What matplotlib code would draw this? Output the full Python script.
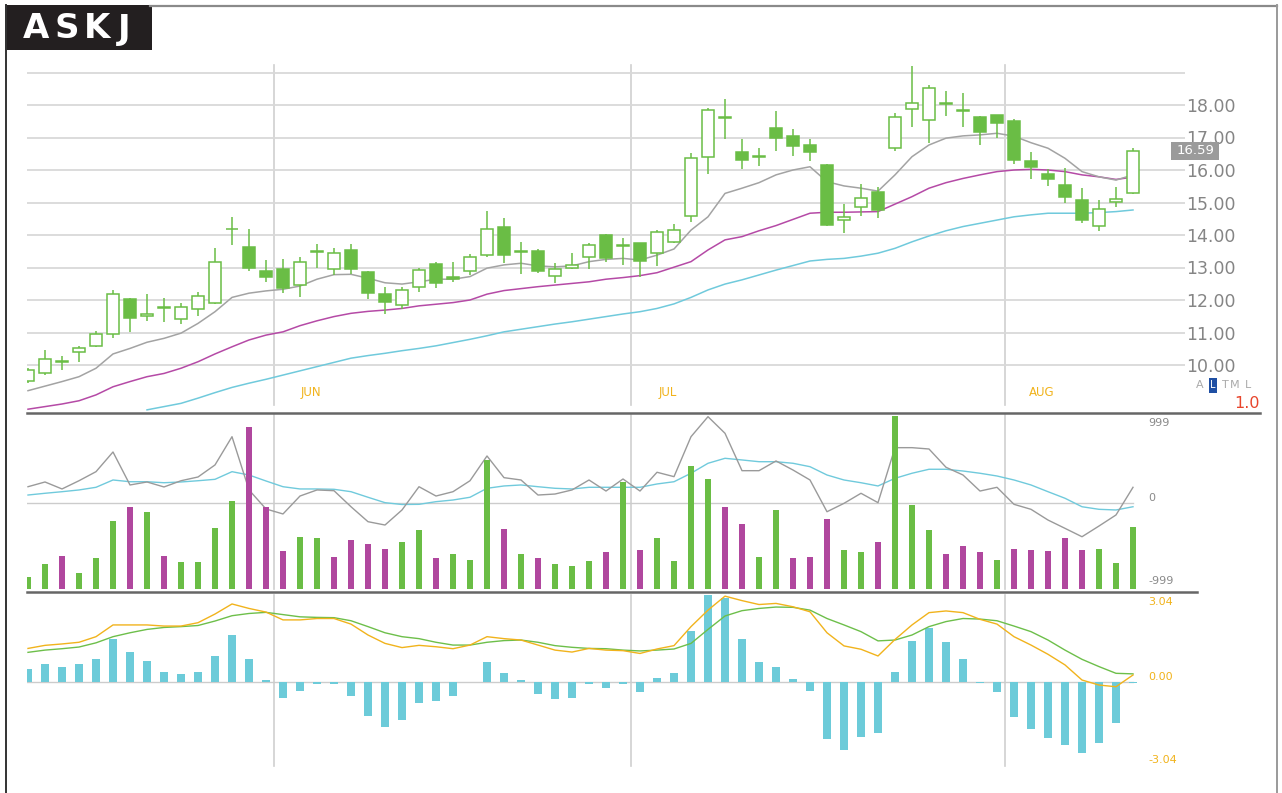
import matplotlib

matplotlib.use("Agg")
import matplotlib.pyplot as plt  # noqa: E402
from matplotlib.lines import Line2D  # noqa: E402
from matplotlib.patches import Rectangle  # noqa: E402
import numpy as np  # noqa: E402

W, H = 1282, 793

# ---- daily candles (May .. Aug) ----
opens = [9.50, 9.76, 10.10, 10.39, 10.59, 10.95, 12.03, 11.50, 11.75, 11.42,
         11.71, 11.92, 14.20, 13.64, 12.89, 12.94, 12.46, 13.50, 12.94, 13.54,
         12.87, 12.18, 11.85, 12.39, 13.11, 12.70, 12.90, 13.38, 14.26, 13.50,
         13.52, 12.75, 12.97, 13.33, 14.00, 13.68, 13.74, 13.44, 13.79, 14.59,
         16.41, 17.63, 16.54, 16.43, 17.28, 17.05, 16.76, 16.15, 14.46, 14.85,
         15.33, 16.67, 17.87, 17.54, 18.06, 17.83, 17.62, 17.69, 17.51, 16.28,
         15.87, 15.53, 15.08, 14.29, 15.02, 15.28]
highs = [9.90, 10.46, 10.28, 10.60, 11.06, 12.31, 12.05, 12.18, 12.07, 11.92,
         12.26, 13.59, 14.56, 14.18, 13.23, 13.26, 13.33, 13.71, 13.60, 13.71,
         12.90, 12.39, 12.39, 12.97, 13.18, 13.18, 13.42, 14.74, 14.51, 13.78,
         13.56, 13.15, 13.44, 13.76, 14.03, 13.92, 13.75, 14.15, 14.34, 16.53,
         17.92, 18.18, 16.94, 16.67, 17.82, 17.25, 16.94, 16.17, 14.95, 15.56,
         15.49, 17.74, 19.20, 18.62, 18.44, 18.38, 17.65, 17.70, 17.56, 16.54,
         16.02, 16.07, 15.46, 15.08, 15.49, 16.69]
lows = [9.45, 9.69, 9.85, 10.10, 10.56, 10.82, 11.02, 11.36, 11.33, 11.26,
        11.51, 11.88, 13.69, 12.90, 12.56, 12.22, 12.10, 13.00, 12.77, 12.79,
        12.04, 11.56, 11.73, 12.26, 12.38, 12.56, 12.77, 13.31, 13.13, 12.79,
        12.82, 12.53, 12.94, 12.94, 13.16, 13.08, 12.72, 13.05, 13.75, 14.41,
        15.87, 16.95, 16.02, 16.13, 16.59, 16.44, 16.29, 14.28, 14.05, 14.58,
        14.51, 16.59, 17.33, 16.84, 17.66, 17.33, 16.77, 16.97, 16.18, 15.71,
        15.51, 14.97, 14.36, 14.13, 14.87, 15.25]
closes = [9.85, 10.18, 10.08, 10.53, 10.95, 12.18, 11.46, 11.58, 11.76, 11.79,
          12.12, 13.17, 14.17, 12.98, 12.72, 12.38, 13.17, 13.48, 13.44, 12.94,
          12.21, 11.94, 12.31, 12.92, 12.53, 12.64, 13.33, 14.17, 13.38, 13.48,
          12.90, 12.94, 13.07, 13.69, 13.30, 13.65, 13.20, 14.10, 14.15, 16.38,
          17.85, 17.60, 16.31, 16.41, 17.00, 16.74, 16.55, 14.31, 14.56, 15.15,
          14.77, 17.64, 18.07, 18.51, 18.04, 17.81, 17.18, 17.44, 16.31, 16.10,
          15.71, 15.18, 14.46, 14.81, 15.12, 16.59]

# moving averages over the candles (grey fast, magenta mid, cyan slow)
ma_fast = [9.21, 9.35, 9.49, 9.64, 9.90, 10.34, 10.51, 10.70, 10.82, 10.98,
           11.28, 11.64, 12.08, 12.21, 12.28, 12.33, 12.43, 12.64, 12.78, 12.79,
           12.67, 12.53, 12.49, 12.56, 12.64, 12.64, 12.72, 12.98, 13.08, 13.13,
           13.05, 13.02, 13.05, 13.18, 13.25, 13.28, 13.23, 13.38, 13.57, 14.15,
           14.56, 15.28, 15.44, 15.61, 15.85, 16.00, 16.10, 15.64, 15.51, 15.44,
           15.35, 15.85, 16.41, 16.77, 16.98, 17.05, 17.08, 17.13, 17.04, 16.84,
           16.67, 16.36, 15.95, 15.79, 15.69, 15.85]
ma_mid = [8.64, 8.72, 8.80, 8.90, 9.08, 9.33, 9.49, 9.64, 9.74, 9.90,
          10.10, 10.34, 10.56, 10.77, 10.92, 11.02, 11.21, 11.36, 11.49, 11.59,
          11.65, 11.69, 11.74, 11.82, 11.87, 11.92, 12.00, 12.18, 12.29, 12.35,
          12.41, 12.46, 12.51, 12.56, 12.64, 12.69, 12.75, 12.84, 13.01, 13.18,
          13.54, 13.85, 13.95, 14.13, 14.29, 14.48, 14.67, 14.70, 14.70, 14.71,
          14.72, 14.95, 15.18, 15.44, 15.61, 15.74, 15.85, 15.95, 16.00, 16.02,
          16.00, 15.95, 15.85, 15.79, 15.71, 15.78]
ma_slow = [np.nan] * 7 + [
    8.62, 8.72, 8.82, 8.98, 9.15, 9.31, 9.44, 9.56, 9.69, 9.82,
    9.95, 10.08, 10.21, 10.29, 10.36, 10.44, 10.51, 10.59, 10.69, 10.79,
    10.90, 11.02, 11.10, 11.18, 11.26, 11.33, 11.41, 11.49, 11.57, 11.64,
    11.74, 11.88, 12.08, 12.31, 12.49, 12.62, 12.77, 12.92, 13.06, 13.20,
    13.25, 13.28, 13.35, 13.44, 13.59, 13.79, 13.97, 14.13, 14.26, 14.36,
    14.46, 14.56, 14.62, 14.67, 14.67, 14.67, 14.69, 14.72, 14.77]

# volume (thousands) and up/down colouring
volume = [58, 124, 167, 80, 155, 340, 410, 385, 165, 135,
          135, 305, 440, 810, 410, 190, 260, 255, 160, 245,
          225, 200, 235, 295, 155, 175, 145, 645, 300, 175,
          155, 125, 115, 140, 185, 535, 195, 255, 140, 615,
          550, 410, 325, 160, 395, 155, 160, 350, 195, 185,
          235, 865, 420, 295, 175, 215, 185, 145, 200, 195,
          190, 255, 195, 200, 130, 310]
vol_dir = list("ggmgggmgmggggmmmggmmmmggmgggmgmgggmgmggggmmggmmmggmgggmmmgmmmmmggg")

# volume oscillator (-999 .. 999) and its average
vol_osc = [196, 253, 169, 268, 377, 614, 217, 253, 193, 268,
           313, 458, 798, 157, -72, -132, 84, 157, 148, -45,
           -225, -265, -84, 196, 84, 136, 268, 566, 305, 277,
           96, 108, 157, 277, 144, 289, 144, 370, 317, 798,
           1039, 839, 389, 389, 506, 397, 277, -105, -4, 117,
           4, 666, 666, 650, 430, 337, 144, 189, -16, -76,
           -205, -305, -406, -277, -144, 189]
vol_osc_avg = [96, 117, 136, 157, 189, 277, 256, 256, 244, 253,
               268, 285, 377, 337, 265, 196, 169, 169, 165, 136,
               69, 4, -18, -16, 16, 36, 69, 177, 205, 217,
               196, 177, 169, 189, 189, 189, 189, 229, 256, 358,
               478, 538, 518, 497, 497, 478, 437, 337, 277, 244,
               205, 297, 358, 406, 406, 385, 358, 325, 277, 217,
               136, 57, -45, -76, -84, -45]

# MACD, signal, histogram
macd = [1.19, 1.30, 1.35, 1.41, 1.61, 2.03, 2.03, 2.03, 1.99, 1.99,
        2.11, 2.42, 2.78, 2.62, 2.49, 2.21, 2.21, 2.26, 2.26, 2.06,
        1.67, 1.37, 1.22, 1.30, 1.25, 1.18, 1.31, 1.61, 1.54, 1.49,
        1.31, 1.13, 1.06, 1.19, 1.13, 1.11, 1.01, 1.17, 1.29, 1.97,
        2.56, 3.06, 2.90, 2.76, 2.80, 2.68, 2.50, 1.75, 1.28, 1.16,
        0.92, 1.51, 2.03, 2.47, 2.53, 2.47, 2.23, 2.06, 1.61, 1.31,
        0.98, 0.60, 0.06, -0.12, -0.18, 0.24]
signal = [1.05, 1.13, 1.18, 1.24, 1.39, 1.61, 1.75, 1.87, 1.94, 1.97,
          2.01, 2.17, 2.36, 2.44, 2.48, 2.40, 2.32, 2.30, 2.29, 2.18,
          1.97, 1.75, 1.61, 1.54, 1.41, 1.31, 1.31, 1.41, 1.47, 1.49,
          1.41, 1.29, 1.23, 1.19, 1.18, 1.13, 1.10, 1.13, 1.17, 1.37,
          1.87, 2.35, 2.54, 2.62, 2.67, 2.66, 2.56, 2.26, 2.03, 1.79,
          1.46, 1.49, 1.67, 1.97, 2.15, 2.26, 2.24, 2.18, 1.99, 1.79,
          1.49, 1.13, 0.80, 0.54, 0.30, 0.28]
hist = [0.45, 0.62, 0.54, 0.62, 0.80, 1.54, 1.05, 0.75, 0.36, 0.29,
        0.36, 0.93, 1.66, 0.80, 0.06, -0.57, -0.32, -0.08, -0.08, -0.51,
        -1.22, -1.61, -1.37, -0.75, -0.69, -0.51, -0.02, 0.72, 0.32, 0.06,
        -0.45, -0.63, -0.57, -0.10, -0.21, -0.10, -0.36, 0.15, 0.32, 1.80,
        3.10, 3.00, 1.54, 0.72, 0.54, 0.11, -0.32, -2.05, -2.44, -1.97,
        -1.82, 0.35, 1.45, 1.93, 1.41, 0.80, -0.06, -0.36, -1.25, -1.69,
        -2.00, -2.25, -2.56, -2.18, -1.49, -0.06]

months = ["JUN", "JUL", "AUG"]
month_first_bar = [15, 36, 58]
price_ticks = [10, 11, 12, 13, 14, 15, 16, 17, 18, 19]
last_price = closes[-1]

# colours
GREEN = "#6abd45"
MAGENTA = "#b0479e"
GREY_MA = "#a3a3a3"
PINK_MA = "#b54aa6"
CYAN_MA = "#70cadc"
ORANGE = "#f1b31c"
HIST = "#6ccbd9"
GRID = "#d9d9d9"


def fx(x):
    return x / W


def fy(y):
    return 1 - y / H


def panel(top, bottom, left=27, right=1185):
    ax = fig.add_axes([fx(left), fy(bottom), (right - left) / W, (bottom - top) / H])
    for s in ax.spines.values():
        s.set_visible(False)
    ax.set_facecolor("none")
    return ax


fig = plt.figure(figsize=(W / 100, H / 100), dpi=100)
n = len(closes)
xs = np.arange(n)
XLIM = ((27 - 28) / 17, (1185 - 28) / 17)
month_lines = [b - 0.5 for b in month_first_bar]

# ---------------- price panel ----------------
ax = panel(60, 412)
ax.set_xlim(*XLIM)
ax.set_ylim(10 - 47 / 32.5, 10 + 305 / 32.5)
ax.set_xticks([])
ax.set_yticks(price_ticks)
ax.set_yticklabels([f"{v:.2f}" for v in price_ticks[:-1]] + [""])
ax.yaxis.tick_right()
ax.tick_params(axis="y", length=0, pad=1, labelsize=12.5, labelcolor="#858585")
ax.grid(axis="y", color=GRID, lw=1.3)
ax.set_axisbelow(True)
for mx in month_lines:
    ax.axvline(mx, ymin=0.02, ymax=0.986, color="#cfcfcf", lw=1.2, zorder=0)
for mx, name in zip(month_lines, months):
    ax.text(mx + 2.15, 9.14, name, color=ORANGE, fontsize=8.5, ha="center", va="center")

ax.plot(xs, ma_slow, color=CYAN_MA, lw=1.1, zorder=2)
ax.plot(xs, ma_mid, color=PINK_MA, lw=1.1, zorder=2)
ax.plot(xs, ma_fast, color=GREY_MA, lw=1.1, zorder=2)

o, c = np.array(opens), np.array(closes)
up = c >= o
bottoms = np.minimum(o, c)
heights = np.maximum(np.abs(c - o), 0.03)
ax.vlines(xs, lows, highs, color=GREEN, lw=1.1, zorder=3)
ax.bar(xs, heights, bottom=bottoms, width=0.74,
       facecolor=["white" if u else GREEN for u in up], edgecolor=GREEN, lw=1.1, zorder=4)

# ---------------- volume panel ----------------
ax_osc = panel(413, 591)
ax_osc.set_xlim(*XLIM)
ax_osc.set_ylim(-(591 - 503) / 83 * 999, (503 - 413) / 83 * 999)
ax_osc.set_xticks([])
ax_osc.set_yticks([])
for mx in month_lines:
    ax_osc.axvline(mx, ymin=0.01, ymax=0.99, color="#cfcfcf", lw=1.2, zorder=0)
ax_osc.axhline(0, xmax=(1133 - 27) / (1185 - 27), color="#cccccc", lw=1.0, zorder=1)
ax_osc.plot(xs, vol_osc_avg, color=CYAN_MA, lw=1.0, zorder=2)
ax_osc.plot(xs, vol_osc, color="#9a9a9a", lw=1.0, zorder=2)

ax_vol = ax_osc.twinx()
for s in ax_vol.spines.values():
    s.set_visible(False)
ax_vol.set_xlim(*XLIM)
ax_vol.set_ylim(-10, 880)
ax_vol.set_yticks([])
ax_vol.bar(xs, volume, width=0.4, color=[GREEN if d == "g" else MAGENTA for d in vol_dir],
           lw=0)

# ---------------- MACD panel ----------------
ax_m = panel(591, 775)
ax_m.set_xlim(*XLIM)
ax_m.set_ylim((681.7 - 775) / 85 * 3.04, (681.7 - 591) / 85 * 3.04)
ax_m.set_xticks([])
ax_m.set_yticks([])
for mx in month_lines:
    ax_m.axvline(mx, ymin=0.049, ymax=0.978, color="#cfcfcf", lw=1.2, zorder=0)
ax_m.axhline(0, xmax=(1133 - 27) / (1185 - 27), color="#cccccc", lw=1.0, zorder=1)
ax_m.bar(xs, hist, width=0.42, color=HIST, zorder=2)
ax_m.plot(xs, signal, color="#6dbf4a", lw=1.0, zorder=3)
ax_m.plot(xs, macd, color=ORANGE, lw=1.0, zorder=3)


# ---------------- frame, separators and labels ----------------
def fig_line(x0, y0, x1, y1, color, lw):
    fig.add_artist(Line2D([fx(x0), fx(x1)], [fy(y0), fy(y1)], color=color, lw=lw,
                          transform=fig.transFigure))


fig_line(150, 5.5, 1277, 5.5, "#8a8a8a", 1.6)
fig_line(5.5, 5, 5.5, 793, "#333333", 1.4)
fig_line(1277, 5, 1277, 793, "#9a9a9a", 1.4)
fig_line(27, 412.5, 1260, 412.5, "#666666", 1.8)
fig_line(27, 591.5, 1197, 591.5, "#666666", 1.8)

fig.add_artist(Rectangle((fx(5), fy(50)), 147 / W, 45 / H, facecolor="#231f20",
                         edgecolor="none", transform=fig.transFigure))
for ch, cx in zip("ASKJ", [36, 66.5, 97.5, 124]):
    fig.text(fx(cx), fy(29), ch, color="white", fontsize=24.5, fontweight="bold",
             ha="center", va="center")

# last price tag
fig.add_artist(Rectangle((fx(1171), fy(160)), 48 / W, 18 / H, facecolor="#9b9b9b",
                         edgecolor="none", transform=fig.transFigure))
fig.text(fx(1195), fy(151), f"{last_price:.2f}", color="white", fontsize=9.5,
         ha="center", va="center")

# scale selector + factor
fig.text(fx(1200), fy(385), "A", color="#aaaaaa", fontsize=8, ha="center", va="center")
fig.add_artist(Rectangle((fx(1209), fy(393)), 8 / W, 15 / H, facecolor="#1f4fa3",
                         edgecolor="none", transform=fig.transFigure))
fig.text(fx(1213), fy(385), "L", color="white", fontsize=7, ha="center", va="center")
for ch, cx in zip("TML", [1225, 1235, 1248]):
    fig.text(fx(cx), fy(385), ch, color="#aaaaaa", fontsize=8, ha="center", va="center")
fig.text(fx(1260), fy(403), "1.0", color="#e8452c", fontsize=11.5, ha="right", va="center")

# volume oscillator scale
for txt, yy in [("999", 423), ("0", 498), ("-999", 581)]:
    fig.text(fx(1148), fy(yy), txt, color="#8a8a8a", fontsize=8, ha="left", va="center")
# MACD scale
for txt, yy in [("3.04", 602), ("0.00", 677), ("-3.04", 760)]:
    fig.text(fx(1148), fy(yy), txt, color=ORANGE, fontsize=8, ha="left", va="center")

fig.savefig("out.png", dpi=100, facecolor="white")
